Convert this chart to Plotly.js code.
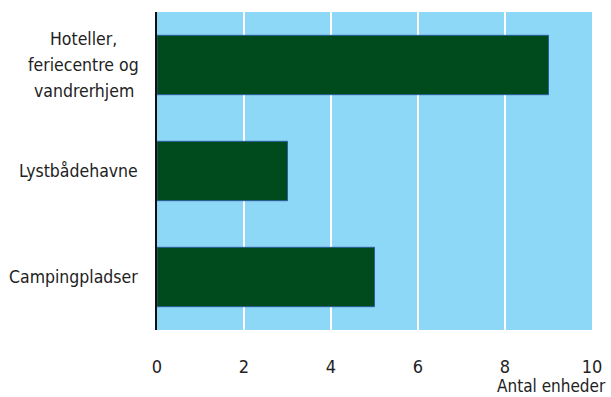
<!DOCTYPE html>
<html><head><meta charset="utf-8">
<script src="https://cdn.plot.ly/plotly-3.0.1.min.js"></script>
<style>body{margin:0;background:#fff}#c{width:611px;height:397px}</style>
</head><body><div id="c"></div>
<script>
const categories = ["Hoteller,<br>feriecentre og<br>vandrerhjem", "Lystbådehavne", "Campingpladser"];
const values = [9, 3, 5];
const xTicks = [0, 2, 4, 6, 8, 10];
const xAxisLabel = "Antal enheder";

const FONT = "DejaVu Sans Condensed, Liberation Sans Narrow, sans-serif";
const trace = {
  type: "bar", orientation: "h",
  x: values, y: categories.map((c, i) => i),
  width: 0.56,
  marker: {color: "#004b1e", line: {color: "#2a5e9e", width: 1}},
  hoverinfo: "skip"
};
const annotations = [];
categories.forEach((c, i) => {
  const lines = c.split("<br>");
  const mid = (lines.length - 1) / 2;
  const multi = lines.length > 1;
  lines.forEach((ln, k) => {
    annotations.push({
      text: ln, xref: "paper", yref: "y", x: multi ? -0.168 : -0.039, y: i, yshift: (mid - k) * 26,
      xanchor: multi ? "center" : "right", yanchor: "middle", showarrow: false,
      font: {family: FONT, size: 17.5, color: "#222"}
    });
  });
});
annotations.push({
  text: xAxisLabel, xref: "paper", yref: "paper", x: 1.036, y: -0.175,
  xanchor: "right", yanchor: "middle", showarrow: false,
  font: {family: FONT, size: 17, color: "#222"}
});
Plotly.newPlot("c", [trace], {
  width: 611, height: 397,
  margin: {l: 157, r: 19, t: 12, b: 67},
  paper_bgcolor: "#fff", plot_bgcolor: "#8dd8f6",
  showlegend: false,
  bargap: 0.44,
  xaxis: {range: [0, 10], tickvals: xTicks, ticktext: xTicks.map(String),
    showgrid: true, gridcolor: "#fff", gridwidth: 2, zeroline: false,
    showline: false, ticks: "", ticklabelstandoff: 24,
    tickfont: {family: FONT, size: 18, color: "#222"}},
  yaxis: {range: [2.5, -0.5], showticklabels: false, showgrid: false, zeroline: false,
    showline: true, linecolor: "#111", linewidth: 2, ticks: ""},
  annotations: annotations
}, {displayModeBar: false, staticPlot: true});
</script></body></html>
